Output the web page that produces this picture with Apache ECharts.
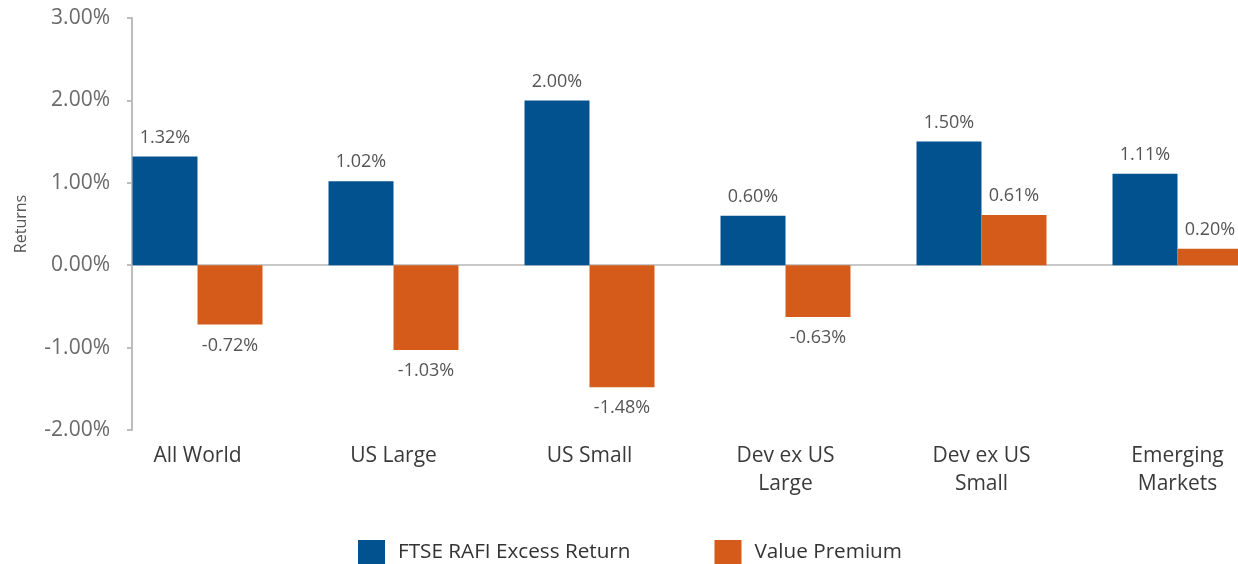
<!DOCTYPE html>
<html>
<head>
<meta charset="utf-8">
<script src="https://cdn.jsdelivr.net/npm/echarts@6/dist/echarts.min.js"></script>
<style>
	html, body { margin: 0; padding: 0; background: #fff; }
	#main { width: 1238px; height: 564px; }
</style>
</head>
<body>
<div id="main"></div>
<script type="text/javascript">
	var categories = [ 'All World', 'US Large', 'US Small', 'Dev ex US\nLarge', 'Dev ex US\nSmall', 'Emerging\nMarkets' ];
	var rafiExcess = [ 1.32, 1.02, 2.00, 0.60, 1.50, 1.11 ];
	var valuePremium = [ -0.72, -1.03, -1.48, -0.63, 0.61, 0.20 ];
	var yTicks = { min : -2, max : 3, interval : 1 };

	var font = '"Open Sans", "DejaVu Sans", sans-serif';

	function pct(v) {
		return v.toFixed(2) + '%';
	}
	// labels above positive bars, below negative ones
	function withLabels(values) {
		return values.map(function(v) {
			return {
				value : v,
				label : {
					position : v < 0 ? 'bottom' : 'top',
					distance : v < 0 ? 12 : 10
				}
			};
		});
	}

	var chart = echarts.init(document.getElementById('main'), null, { renderer : 'canvas' });
	var barLabel = {
		show : true,
		color : '#555',
		fontFamily : font,
		fontSize : 18,
		formatter : function(p) {
			return pct(p.value);
		}
	};
	var option = {
		backgroundColor : '#fff',
		animation : false,
		textStyle : { fontFamily : font },
		legend : {
			left : 358,
			top : 540,
			padding : 0,
			itemWidth : 27,
			itemHeight : 25,
			itemGap : 84,
			icon : 'rect',
			textStyle : {
				fontFamily : font,
				fontSize : 20.7,
				color : '#333',
				padding : [ 0, 0, 0, 8 ]
			},
			data : [ 'FTSE RAFI Excess Return', 'Value Premium' ]
		},
		grid : [ {
			// bars: bands start left of the visible axis, chart is cut on the right
			left : 99.5,
			width : 1176,
			top : 18,
			bottom : 134,
			outerBoundsMode : 'none'
		}, {
			// axis frame
			left : 132,
			right : 0,
			top : 18,
			bottom : 134,
			outerBoundsMode : 'none'
		} ],
		xAxis : [ {
			type : 'category',
			gridIndex : 0,
			data : categories,
			axisLine : { show : false },
			axisTick : { show : false },
			axisLabel : {
				interval : 0,
				margin : 12,
				fontFamily : font,
				fontSize : 21,
				lineHeight : 28,
				color : '#3a3a3a'
			}
		}, {
			type : 'value',
			gridIndex : 1,
			min : 0,
			max : 1,
			axisLine : {
				onZero : true,
				lineStyle : { color : '#c8c8c8', width : 2 }
			},
			axisTick : { show : false },
			axisLabel : { show : false },
			splitLine : { show : false }
		} ],
		yAxis : [ {
			type : 'value',
			gridIndex : 0,
			min : yTicks.min,
			max : yTicks.max,
			interval : yTicks.interval,
			show : false
		}, {
			type : 'value',
			gridIndex : 1,
			min : yTicks.min,
			max : yTicks.max,
			interval : yTicks.interval,
			name : 'Returns',
			nameLocation : 'middle',
			nameGap : 103,
			nameTextStyle : {
				fontFamily : font,
				fontSize : 16,
				color : '#555'
			},
			axisLine : {
				show : true,
				lineStyle : { color : '#bdbdbd', width : 2 }
			},
			axisTick : {
				show : true,
				length : 5,
				lineStyle : { color : '#bdbdbd', width : 2 }
			},
			axisLabel : {
				margin : 22,
				fontFamily : font,
				fontSize : 21,
				color : '#6a6a6a',
				formatter : function(v) {
					return pct(v);
				}
			},
			splitLine : { show : false }
		} ],
		series : [ {
			name : 'FTSE RAFI Excess Return',
			type : 'bar',
			xAxisIndex : 0,
			yAxisIndex : 0,
			barWidth : 65,
			barGap : '0%',
			itemStyle : { color : '#02528f' },
			label : barLabel,
			data : withLabels(rafiExcess)
		}, {
			name : 'Value Premium',
			type : 'bar',
			xAxisIndex : 0,
			yAxisIndex : 0,
			barWidth : 65,
			barGap : '0%',
			itemStyle : { color : '#d45b1a' },
			label : barLabel,
			data : withLabels(valuePremium)
		} ]
	};
	chart.setOption(option);
</script>
</body>
</html>
